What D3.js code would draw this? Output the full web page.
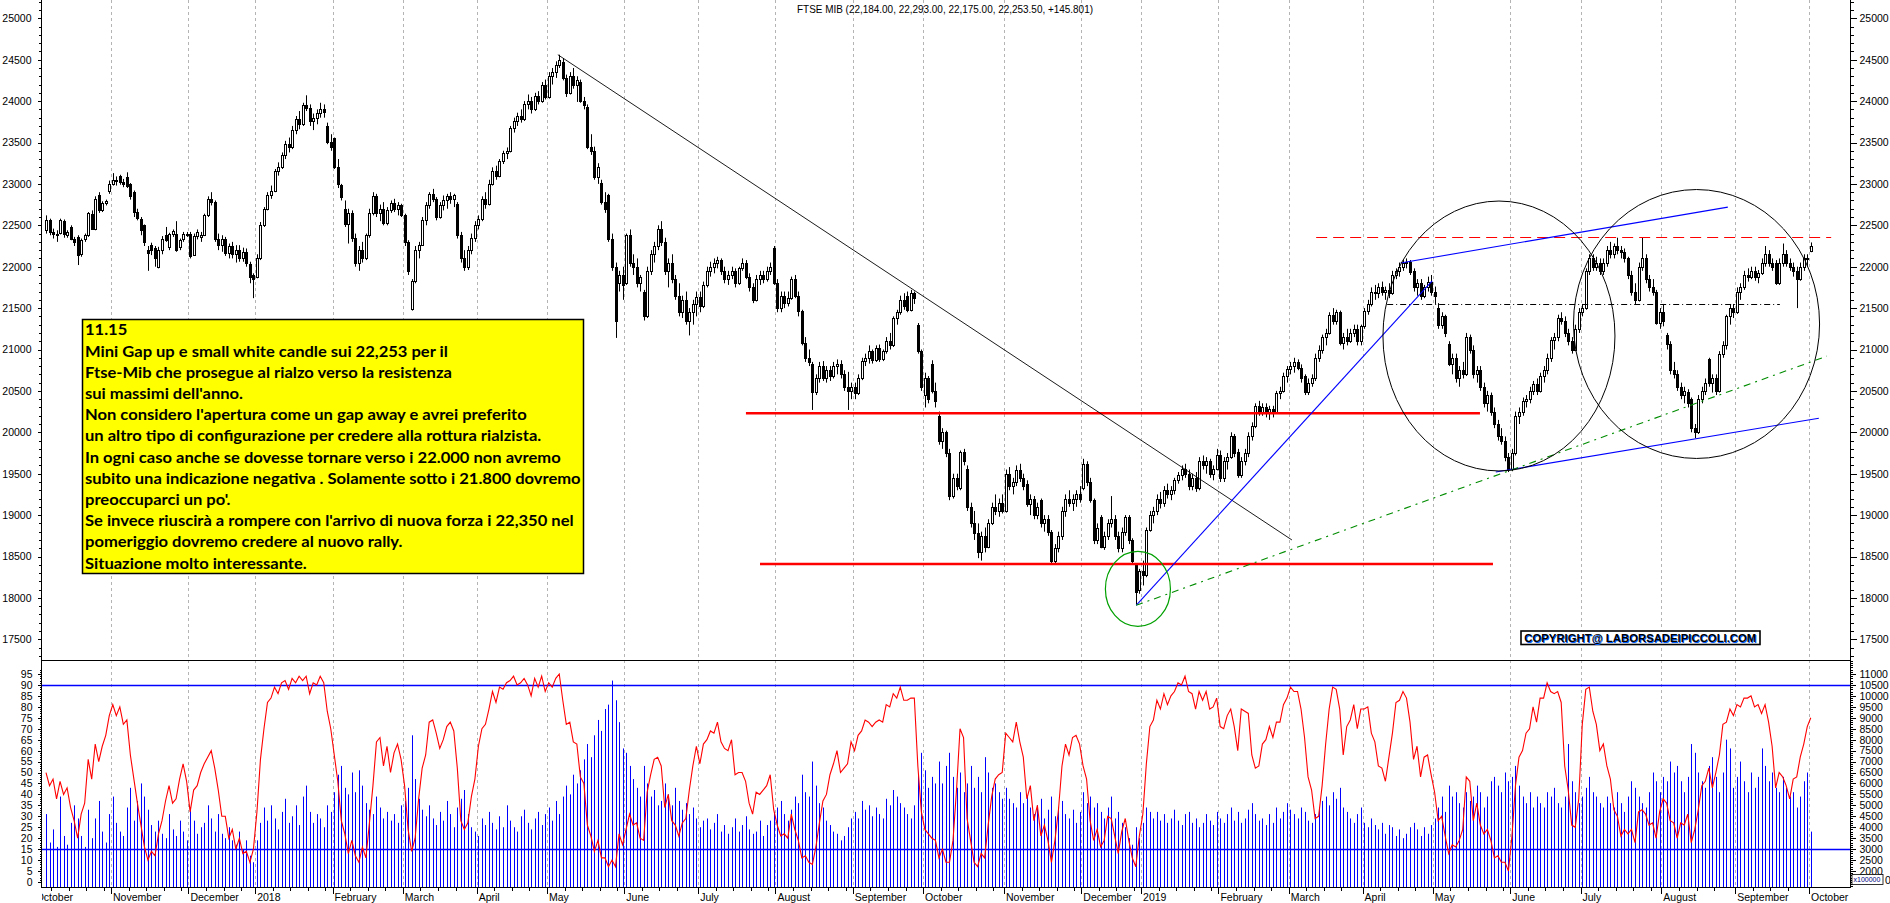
<!DOCTYPE html>
<html><head><meta charset="utf-8">
<script src="https://cdn.jsdelivr.net/npm/d3@7"></script>
<style>html,body{margin:0;padding:0;background:#fff;overflow:hidden}svg{display:block}</style>
</head><body>
<svg id="c" width="1890" height="903"></svg>
<script>
// ---------------- DATA ----------------
const titleText = "FTSE MIB (22,184.00, 22,293.00, 22,175.00, 22,253.50, +145.801)";
const monthLabels = ["October","November","December","2018","February","March","April","May","June","July","August","September","October","November","December","2019","February","March","April","May","June","July","August","September","October"];
const monthDays = [19,22,19,22,20,21,20,22,21,22,22,20,23,22,17,22,20,21,20,22,20,23,21,21,1];
const leadingDays = 3; // trading days of the first month before the first bar
const priceTicks = d3.range(17500, 25001, 500);
const oscTicks = d3.range(0, 96, 5);
const volTicks = d3.range(2000, 11001, 500);

// daily candles [open, high, low, close]
const candles = [
// Oct 2017
[22440,22620,22400,22570],[22560,22580,22380,22420],[22420,22460,22340,22400],[22400,22440,22300,22380],[22410,22580,22390,22560],[22550,22570,22350,22400],[22380,22440,22350,22420],[22480,22500,22320,22340],[22340,22360,22250,22300],[22360,22380,22020,22140],[22150,22340,22120,22320],[22330,22400,22300,22380],[22380,22660,22360,22650],[22640,22680,22450,22460],[22460,22850,22440,22820],[22860,22900,22650,22680],[22690,22790,22660,22770],[22770,22810,22740,22790],[22920,23040,22880,23000],
// Nov 2017
[23000,23130,22980,23050],[23050,23090,22980,23030],[23100,23110,22990,23020],[23020,23060,22960,23000],[23080,23140,22950,22970],[23000,23010,22810,22850],[22900,22920,22600,22660],[22660,22700,22560,22590],[22580,22600,22380,22440],[22500,22510,22250,22300],[22200,22250,21950,22160],[22260,22290,22140,22200],[22220,22250,22000,22100],[22000,22240,21980,22200],[22200,22370,22150,22340],[22380,22480,22300,22320],[22240,22410,22200,22400],[22400,22450,22360,22430],[22400,22550,22180,22200],[22240,22340,22200,22320],[22340,22420,22300,22400],[22400,22420,22360,22380],
// Dec 2017
[22400,22420,22100,22130],[22140,22400,22130,22370],[22370,22450,22330,22420],[22360,22420,22300,22380],[22380,22640,22370,22620],[22620,22850,22600,22820],[22820,22900,22740,22780],[22780,22800,22300,22330],[22330,22400,22200,22260],[22260,22380,22180,22330],[22330,22360,22130,22160],[22160,22280,22100,22250],[22250,22300,22100,22150],[22150,22260,22050,22200],[22200,22260,22060,22100],[22100,22230,22060,22180],[22180,22220,22000,22050],[22030,22060,21800,21870],[21900,21920,21620,21850],
// Jan 2018
[21880,22150,21860,22100],[22100,22540,22080,22500],[22500,22720,22480,22700],[22700,22900,22680,22870],[22870,22980,22820,22920],[22920,23180,22900,23150],[23150,23260,23100,23200],[23200,23380,23180,23350],[23350,23520,23300,23480],[23480,23560,23380,23440],[23440,23700,23420,23650],[23650,23820,23600,23780],[23780,23880,23660,23720],[23720,23980,23700,23950],[23950,24070,23880,23920],[23920,23960,23700,23760],[23760,23850,23650,23800],[23800,23900,23720,23860],[23860,23980,23800,23900],[23900,23960,23800,23870],[23700,23740,23480,23510],[23510,23600,23400,23450],
// Feb 2018
[23550,23560,23180,23210],[23210,23300,22950,23000],[22990,23000,22800,22840],[22700,22800,22480,22520],[22520,22700,22280,22650],[22650,22680,22300,22350],[22350,22400,22000,22050],[22050,22250,21950,22200],[22200,22300,22050,22100],[22100,22400,22080,22380],[22380,22700,22350,22650],[22650,22900,22620,22850],[22850,22880,22600,22650],[22650,22750,22550,22700],[22700,22780,22500,22530],[22530,22720,22500,22690],[22690,22800,22650,22770],[22770,22820,22660,22700],[22700,22780,22620,22740],[22740,22760,22600,22620],
// Mar 2018
[22620,22640,22250,22300],[22300,22320,21900,21950],[21490,21850,21470,21830],[21830,22250,21800,22200],[22200,22300,22100,22260],[22260,22600,22250,22560],[22560,22780,22500,22740],[22740,22900,22700,22880],[22880,22940,22780,22820],[22820,22840,22560,22600],[22600,22780,22580,22740],[22740,22860,22680,22800],[22800,22880,22700,22850],[22850,22900,22760,22820],[22820,22880,22720,22860],[22760,22780,22340,22380],[22380,22420,22050,22100],[22100,22200,21950,22000],[22000,22250,21960,22200],[22200,22400,22150,22350],[22350,22550,22300,22500],
// Apr 2018
[22500,22620,22450,22580],[22580,22850,22550,22820],[22820,22900,22700,22760],[22760,23050,22740,23000],[23000,23200,22980,23150],[23150,23220,23050,23100],[23100,23300,23080,23280],[23280,23400,23240,23370],[23370,23440,23300,23400],[23400,23700,23380,23680],[23680,23800,23620,23760],[23760,23860,23700,23820],[23820,23900,23740,23780],[23780,24000,23760,23960],[23960,24080,23900,24000],[24000,24050,23850,23900],[23900,24100,23880,24060],[24060,24120,23960,24000],[24000,24230,23980,24200],[24200,24260,24020,24050],
// May 2018
[24050,24350,24030,24300],[24300,24400,24200,24350],[24350,24480,24280,24440],[24440,24560,24400,24500],[24470,24520,24250,24280],[24280,24320,24050,24100],[24100,24350,24080,24300],[24300,24400,24150,24200],[24200,24300,23990,24250],[24230,24260,23980,24000],[24000,24050,23900,23950],[23930,23960,23420,23450],[23450,23600,23350,23400],[23400,23450,23050,23080],[23080,23250,23000,23200],[23010,23050,22750,22780],[22780,22900,22650,22700],[22860,22880,22300,22340],[22340,22400,21950,22000],[22000,22050,21140,21350],[21800,21950,21700,21900],[21900,22000,21600,21780],
// Jun 2018
[21800,22400,21780,22380],[22380,22450,22000,22050],[22050,22150,21900,22000],[22000,22100,21750,21800],[21800,21900,21700,21880],[21700,21720,21350,21400],[21400,22000,21380,21950],[21950,22200,21900,22150],[22150,22300,22050,22250],[22250,22500,22200,22450],[22450,22550,22250,22300],[22300,22350,21900,21950],[21950,22100,21750,22050],[22050,22150,21800,21850],[21850,21900,21600,21650],[21650,21800,21400,21450],[21450,21650,21380,21600],[21600,21700,21300,21350],[21350,21500,21170,21450],[21450,21600,21300,21550],[21550,21700,21400,21630],
// Jul 2018
[21630,21700,21450,21520],[21520,21820,21500,21780],[21780,22000,21750,21950],[21950,22060,21880,22000],[22000,22100,21920,22050],[22050,22120,21980,22080],[22080,22100,21900,21950],[21950,22000,21800,21850],[21850,21950,21780,21900],[21900,22000,21850,21950],[21950,21980,21750,21800],[21800,22000,21780,21980],[21980,22100,21950,22050],[22050,22080,21850,21880],[21880,21920,21700,21750],[21750,21800,21560,21600],[21600,21900,21580,21850],[21850,21950,21780,21900],[21900,21950,21800,21850],[21850,22000,21820,21950],[21950,22050,21900,22000],[22230,22250,21780,21800],
// Aug 2018
[21800,21850,21450,21500],[21500,21700,21450,21650],[21650,21700,21500,21560],[21560,21700,21520,21620],[21620,21880,21600,21850],[21850,21900,21620,21650],[21650,21700,21400,21460],[21460,21480,21050,21080],[21080,21150,20850,20900],[20900,21000,20800,20850],[20830,20850,20270,20490],[20490,20700,20450,20650],[20650,20850,20600,20800],[20800,20860,20620,20660],[20660,20800,20600,20750],[20750,20800,20620,20680],[20680,20850,20650,20800],[20800,20880,20700,20830],[20830,20870,20650,20700],[20700,20750,20500,20550],[20550,20730,20270,20500],[20500,20600,20400,20550],
// Sep 2018
[20550,20600,20400,20480],[20480,20700,20450,20650],[20650,20900,20630,20860],[20860,20950,20800,20900],[20900,21050,20830,20980],[20980,21000,20830,20870],[20870,21050,20850,21020],[21020,21060,20850,20880],[20880,21000,20860,20980],[20980,21150,20950,21100],[21100,21200,21000,21050],[21050,21400,21030,21380],[21380,21480,21300,21450],[21450,21650,21420,21600],[21600,21680,21480,21520],[21650,21700,21450,21480],[21480,21720,21460,21680],[21680,21700,21550,21620],[21300,21320,20950,20980],[20980,21000,20500,20550],
// Oct 2018
[20450,20720,20300,20650],[20650,20680,20350,20400],[20830,20870,20470,20500],[20500,20600,20300,20380],[20200,20250,19850,19900],[19900,20050,19800,20000],[20000,20020,19700,19750],[19750,19800,19180,19230],[19230,19500,19200,19450],[19450,19500,19300,19350],[19330,19780,19300,19760],[19760,19800,19600,19650],[19560,19600,19050,19100],[19100,19150,18850,18900],[18900,19050,18700,18780],[18780,18900,18480,18550],[18550,18800,18450,18750],[18750,18850,18550,18620],[18620,18950,18600,18900],[18900,19150,18880,19100],[19100,19250,19000,19050],[19050,19200,18980,19150],[19150,19250,19020,19050],
// Nov 2018
[19050,19550,19030,19500],[19500,19580,19300,19350],[19350,19450,19250,19400],[19400,19600,19350,19550],[19550,19620,19400,19450],[19450,19500,19300,19350],[19380,19420,19100,19130],[19130,19250,19000,19200],[19200,19230,18950,19000],[19000,19150,18950,19100],[19180,19200,18850,18900],[18900,19000,18800,18950],[18950,19000,18750,18800],[18800,18820,18400,18450],[18450,18650,18420,18600],[18600,18800,18550,18750],[18750,19100,18700,19050],[19050,19250,18980,19200],[19200,19300,19100,19150],[19150,19250,19050,19200],[19200,19300,19100,19250],[19250,19350,19150,19190],
// Dec 2018
[19330,19680,19300,19620],[19620,19650,19350,19400],[19400,19450,19150,19180],[19180,19200,18650,18700],[18700,18900,18650,18850],[18980,19000,18600,18620],[18620,18800,18580,18750],[18750,18950,18700,18900],[18900,19230,18850,18950],[18950,19000,18700,18750],[18750,18800,18550,18600],[18600,18850,18550,18800],[18800,19000,18750,18980],[18980,19000,18650,18700],[18700,18720,18400,18450],[18400,18420,17920,18070],[18100,18350,18050,18320],
// Jan 2019
[18320,18450,18150,18280],[18280,18850,18250,18820],[18820,19050,18800,19000],[19000,19100,18900,19050],[19050,19250,19000,19200],[19200,19280,19080,19150],[19150,19350,19100,19300],[19300,19380,19200,19250],[19250,19350,19180,19300],[19300,19450,19250,19420],[19420,19520,19380,19480],[19480,19600,19420,19560],[19560,19620,19450,19500],[19500,19550,19300,19350],[19350,19500,19300,19450],[19450,19520,19280,19330],[19330,19700,19300,19650],[19650,19720,19550,19600],[19600,19700,19500,19650],[19650,19680,19450,19500],[19500,19600,19420,19560],[19560,19800,19540,19730],
// Feb 2019
[19730,19780,19400,19450],[19450,19700,19400,19650],[19650,19750,19550,19700],[19700,20000,19680,19950],[19950,19980,19700,19750],[19760,19800,19450,19480],[19480,19700,19450,19650],[19650,19800,19600,19750],[19750,20000,19700,19950],[19950,20120,19900,20080],[20080,20350,20050,20320],[20320,20380,20200,20250],[20250,20350,20200,20300],[20300,20350,20180,20230],[20230,20320,20150,20280],[20280,20320,20180,20250],[20250,20500,20230,20470],[20470,20550,20400,20500],[20500,20720,20480,20680],[20680,20800,20600,20760],
// Mar 2019
[20760,20850,20700,20800],[20800,20900,20720,20850],[20850,20880,20750,20780],[20780,20820,20600,20650],[20680,20700,20450,20490],[20490,20650,20450,20600],[20600,20700,20550,20650],[20650,20950,20620,20900],[20900,21050,20850,21000],[21000,21180,20950,21150],[21150,21250,21050,21200],[21200,21450,21180,21420],[21420,21500,21300,21350],[21350,21480,21300,21450],[21450,21470,21050,21080],[21080,21200,21000,21150],[21150,21250,21050,21100],[21100,21250,21080,21200],[21200,21300,21150,21250],[21250,21300,21050,21100],[21100,21300,21050,21280],
// Apr 2019
[21280,21500,21250,21460],[21460,21600,21420,21550],[21550,21750,21520,21700],[21700,21780,21600,21680],[21680,21800,21620,21750],[21750,21820,21650,21700],[21700,21760,21600,21720],[21720,21800,21620,21680],[21680,21950,21660,21900],[21900,21980,21850,21950],[21950,22050,21880,22000],[22000,22080,21950,22040],[22040,22100,21980,22060],[22060,22080,21900,21930],[21950,21980,21700,21750],[21750,21850,21650,21800],[21800,21850,21600,21650],[21650,21780,21620,21750],[21750,21880,21700,21820],[21820,21900,21650,21700],
// May 2019
[21700,21760,21550,21650],[21500,21560,21250,21300],[21300,21450,21250,21400],[21400,21420,21150,21200],[21070,21100,20800,20830],[20830,20950,20700,20900],[20900,20950,20600,20650],[20650,20800,20550,20750],[20750,20850,20650,20700],[20700,21200,20680,21150],[21150,21180,20950,21000],[21000,21050,20650,20700],[20700,20800,20600,20750],[20750,20800,20500,20550],[20550,20600,20300,20350],[20350,20500,20250,20450],[20450,20480,20200,20250],[20250,20300,20050,20100],[20100,20150,19900,19950],[19950,20050,19850,19900],[19900,19950,19650,19700],[19700,19750,19520,19560],
// Jun 2019
[19560,19800,19530,19750],[19750,20250,19720,20200],[20200,20300,20100,20250],[20250,20420,20200,20380],[20380,20450,20300,20400],[20400,20550,20350,20500],[20500,20620,20450,20580],[20580,20650,20450,20500],[20500,20720,20480,20680],[20680,20800,20600,20750],[20750,20950,20700,20900],[20900,21150,20850,21120],[21120,21200,21000,21150],[21150,21420,21100,21380],[21380,21450,21300,21350],[21350,21400,21150,21200],[21200,21250,21050,21100],[21100,21150,20950,21000],[21000,21300,20980,21250],[21250,21500,21200,21450],
// Jul 2019
[21450,21550,21400,21500],[21500,21980,21480,21950],[21950,22150,21900,22100],[22100,22150,21950,22000],[22000,22120,21950,22050],[22050,22100,21900,21950],[21950,22100,21900,22050],[22050,22250,22000,22200],[22200,22300,22100,22150],[22150,22280,22100,22250],[22250,22350,22150,22200],[22200,22250,22100,22180],[22180,22220,22050,22100],[22100,22120,21850,21900],[21900,21950,21650,21700],[21700,21800,21550,21600],[21600,22050,21580,22000],[22000,22350,21950,22100],[22100,22150,21800,21850],[21850,21900,21700,21750],[21750,21850,21650,21700],[21700,21720,21300,21320],[21320,21500,21250,21450],
// Aug 2019
[21450,21550,21280,21350],[21170,21200,21000,21070],[21070,21100,20700,20750],[20750,20850,20650,20700],[20700,20750,20500,20550],[20550,20600,20400,20450],[20450,20550,20350,20500],[20490,20520,20300,20350],[20400,20420,20000,20050],[20050,20100,19930,20000],[20000,20450,19980,20400],[20400,20550,20350,20500],[20500,20650,20450,20600],[20880,20900,20550,20590],[20590,20700,20480,20650],[20650,20700,20450,20500],[20500,20980,20480,20950],[20950,21100,20900,21050],[21050,21420,21000,21400],[21400,21550,21300,21500],[21500,21550,21380,21450],
// Sep 2019
[21450,21750,21430,21700],[21700,21800,21600,21750],[21750,21950,21720,21900],[21900,21980,21820,21880],[21880,22000,21850,21950],[21950,22000,21830,21870],[21870,21960,21800,21920],[21920,22100,21900,22050],[22050,22250,22000,22150],[22150,22200,22000,22050],[22050,22100,21950,22000],[22050,22080,21780,21800],[21800,22100,21780,22050],[22050,22280,22000,22150],[22150,22200,22000,22050],[22050,22100,21950,22000],[22000,22050,21880,21950],[21950,22000,21500,21850],[21850,22050,21830,22000],[22000,22150,21950,22100],[22100,22150,22000,22110],
// Oct 2019
[22184,22293,22175,22253]
];

// volume (x100000 axis units)
const volumes = [
4600,3300,3900,3100,5400,3600,3200,4200,5000,4400,3600,3100,4800,3500,4400,5200,3800,3300,4600,
5400,4200,3800,3600,4900,5800,4300,5200,6000,5400,4800,4100,3800,4300,3700,3500,4600,3900,3600,4300,3800,3400,
4900,4300,3700,4000,4200,5000,4400,3800,4600,3700,3500,4000,3400,3200,3800,3000,3400,2700,2400,
3400,4200,4900,4300,5000,4400,3900,4700,5300,4200,4500,5000,4100,5400,5900,4700,4200,4600,4400,4000,5000,4700,
5600,6400,6800,5800,5500,6500,5600,6600,5900,5100,4800,4600,5400,4900,4400,4700,4300,4600,4200,5000,
5200,5800,8200,6200,5300,4800,4500,5000,4400,4100,4700,4300,5200,4600,4000,4900,5300,5700,4600,4000,3800,
3600,4400,4100,4700,4200,3900,4500,4000,5000,4300,4000,3800,4500,4800,4200,3900,4400,4700,4100,4600,
4900,4300,5200,4600,5400,5900,5500,6400,6000,6600,7100,7800,7200,8200,8900,8400,9400,9600,10700,9800,8800,7600,
7400,6800,6200,5800,5400,6800,6000,5400,5700,5000,5200,6000,5500,5000,5800,5200,4800,5100,4600,4900,4400,
4000,4300,4400,3900,4200,4600,3800,4100,3700,4000,4400,3800,4100,4500,3900,3700,3800,4300,3600,4100,4300,4700,
4900,5200,4600,4300,4800,5400,5100,6400,5600,5400,7000,5900,5100,4900,4300,4100,3800,3700,3400,3600,4000,4400,
4700,4400,5200,4800,5000,4500,4900,4600,4400,5300,5000,5700,5400,5100,4900,4600,4400,5000,6400,7400,
6600,5800,6300,6000,7000,6000,6800,7400,6300,5800,6500,5600,6000,6800,5800,6300,5600,7200,6500,5800,6000,5600,5300,
5800,5300,5100,4900,5600,5100,5400,4900,4600,5000,5300,4400,4800,5400,4500,4900,5200,4600,4400,4800,4200,4700,
5600,5100,5400,4900,5100,4700,4400,4900,5400,4400,4700,4200,4000,3500,3200,4000,3500,
4200,4900,4700,4400,4700,4300,4600,4200,4400,4800,4300,4100,4600,4700,4200,4400,4000,4200,4600,4300,4100,4700,
4400,4200,4600,4900,4300,4700,4200,4400,4800,5100,4600,4300,4400,4100,4600,4200,4900,4400,4700,5100,
4800,4600,4400,4900,4700,4300,4200,4600,4900,5200,5400,5000,5600,5300,5800,4900,4700,4400,4200,4600,4900,
4200,4000,4400,4100,3900,4200,3700,4100,4000,3600,3900,3500,3700,4000,4200,3900,3600,4000,3700,4100,
4400,4900,5400,4700,5900,5400,5600,5100,4900,5600,5200,5400,5900,5600,4900,5400,6100,6300,5900,5600,6500,6100,
6300,6800,5900,5400,5100,5600,4900,5400,5100,4900,5600,5400,5800,5100,4900,5400,7800,6100,5600,5100,
5400,5800,6300,5600,5400,5100,4900,5400,5100,4900,5600,5100,4700,5400,6100,5800,5400,5100,4900,5600,6500,6100,5600,
6300,6100,7000,6500,6800,6100,5600,6300,7800,7400,6500,6100,5800,6800,7200,6300,5600,6500,8000,7600,5800,
6300,7000,6100,5600,6500,5800,6300,7600,6800,6100,6500,5800,5600,6300,5800,5400,5600,4900,5400,6100,6500,
3800
];

// oscillator (0-100, red line)
const oscillator = [
50,44,47,38,46,40,43,34,28,20,31,36,56,47,63,55,62,67,76,
81,76,80,72,74,58,47,36,26,16,10,14,12,22,28,37,44,36,38,47,54,46,
32,42,44,50,54,57,60,52,42,30,30,20,24,15,20,13,14,9,15,
32,56,70,82,84,89,86,91,92,88,93,91,94,92,94,86,91,90,94,91,78,70,
58,46,28,22,13,19,12,9,16,11,27,44,64,66,53,62,50,59,63,56,
44,24,14,20,38,52,58,73,74,68,61,65,71,73,69,52,28,24,27,39,47,
62,70,72,79,87,82,89,88,91,92,94,90,91,93,90,85,93,89,94,87,
91,89,93,95,83,72,73,64,63,48,45,26,21,14,19,11,11,7,10,7,22,17,
24,31,26,27,20,19,41,49,56,57,53,34,40,28,26,21,27,29,42,53,62,
54,63,65,69,68,73,64,61,60,65,49,50,50,46,36,31,41,40,42,44,49,33,
26,21,22,20,31,24,19,11,12,9,8,16,27,37,40,49,54,60,50,52,54,64,
60,67,69,74,73,71,73,74,73,81,80,86,84,89,83,83,84,84,53,32,
24,22,20,19,11,15,9,9,19,42,70,66,29,19,9,7,13,11,26,39,47,49,50,
68,66,64,73,64,57,38,44,28,35,21,26,19,9,19,33,53,63,58,66,67,63,
53,47,28,19,24,16,19,30,29,21,13,23,29,19,11,7,21,
31,54,71,74,83,79,86,81,85,87,91,90,94,87,86,79,87,83,87,79,80,84,
71,70,76,79,71,60,79,78,77,58,52,53,63,65,71,66,73,73,81,84,
89,87,87,79,66,48,42,29,30,44,63,79,89,88,79,58,71,74,81,70,79,
79,80,68,64,53,52,46,57,68,82,83,87,84,73,56,62,48,57,58,49,
41,28,30,21,13,17,16,19,24,48,46,28,36,26,22,24,19,11,12,9,9,5,
21,44,57,60,68,70,80,73,84,84,91,87,86,87,82,53,42,26,25,38,
72,88,89,78,72,60,63,53,47,33,30,21,24,22,24,18,32,33,31,26,27,20,32,
38,36,28,27,20,27,26,31,18,24,33,44,46,52,43,50,58,72,73,79,76,
81,80,84,84,85,80,81,77,81,73,62,43,50,48,44,38,47,48,57,63,71,
75
];
const oscLevels = [90, 15];

// drawn annotations (in bar index / price units)
const supportLines = [{i0:199.1,i1:407.9,p:20230},{i0:203.1,i1:411.6,p:18410}];
const resistanceDashed = {i0:361.3,i1:507.8,p:22360};
const necklineDashDot = {i0:381.5,i1:493.2,p:21545};
const downTrend = {i0:145.6,p0:24560,i1:354.4,p1:18700};
const blueLines = [{i0:310.1,p0:17910,i1:394.3,p1:21830},{i0:385.3,p0:22045,i1:478.4,p1:22720},{i0:412.4,p0:19520,i1:504.3,p1:20170}];
const greenTrend = {i0:310.1,p0:17910,i1:506.6,p1:20920};
const blackEllipses = [{i:413.3,p:21163,ri:33.0,rp:1630},{i:469.5,p:21308,ri:35.0,rp:1624}];
const greenEllipse = {i:310.6,p:18108,ri:9.25,rp:453};

const noteLines = ["11.15",
"Mini Gap up e small white candle sui 22,253 per il",
"Ftse-Mib che prosegue al rialzo verso la resistenza",
"sui massimi dell'anno.",
"Non considero l'apertura come un gap away e avrei preferito",
"un altro tipo di configurazione per credere alla rottura rialzista.",
"In ogni caso anche se dovesse tornare verso i 22.000 non avremo",
"subito una indicazione negativa . Solamente sotto i 21.800 dovremo",
"preoccuparci un po'.",
"Se invece riuscirà a rompere con l'arrivo di nuova forza i 22,350 nel",
"pomeriggio dovremo credere al nuovo rally.",
"Situazione molto interessante."];
const copyrightText = "COPYRIGHT@ LABORSADEIPICCOLI.COM";

// ---------------- LAYOUT ----------------
const L = 42, R = 1850, mainBot = 660, lowTop = 661, lowBot = 887;
const svg = d3.select("#c");
const FONT = "'Liberation Sans', Arial, sans-serif";

const x = d3.scaleLinear().domain([0, 502]).range([46, 46 + 502 * 3.5155]);
const yP = d3.scaleLinear().domain([17500, 25000]).range([639.3, 18.3]);
const yO = d3.scaleLinear().domain([0, 95]).range([882, 674]);
const yV = d3.scaleLinear().domain([2000, 11000]).range([871, 674]);

const defs = svg.append("defs");
defs.append("clipPath").attr("id","clipMain").append("rect").attr("x",L).attr("y",0).attr("width",R-L).attr("height",mainBot);
defs.append("clipPath").attr("id","clipLow").append("rect").attr("x",L).attr("y",lowTop).attr("width",R-L).attr("height",lowBot-lowTop);
defs.append("clipPath").attr("id","clipLbl").append("rect").attr("x",L).attr("y",880).attr("width",1890-L).attr("height",30);

// month start bar indices (first month starts before the first bar)
const mStarts = []; { let s = 0; monthDays.forEach((d,k)=>{ mStarts.push(k===0 ? -leadingDays : s); s += d; }); }

// gridlines
const grid = svg.append("g");
mStarts.forEach(s => {
  const gx = Math.round(x(s - 0.5)) + 0.5;
  if (gx < L || gx > R) return;
  grid.append("line").attr("x1",gx).attr("x2",gx).attr("y1",0).attr("y2",lowBot)
    .attr("stroke","#b4b4b4").attr("stroke-width",1).attr("stroke-dasharray","3,3");
});

// ---------- lower panel ----------
const low = svg.append("g").attr("clip-path","url(#clipLow)");
low.selectAll("line.v").data(volumes).join("line").attr("class","v")
  .attr("x1",(d,i)=>Math.round(x(i))+0.5).attr("x2",(d,i)=>Math.round(x(i))+0.5)
  .attr("y1",lowBot).attr("y2",d=>yV(d)).attr("stroke","#0000ff").attr("stroke-width",1);
oscLevels.forEach(v => low.append("line").attr("x1",L).attr("x2",R).attr("y1",Math.round(yO(v))+0.5).attr("y2",Math.round(yO(v))+0.5)
  .attr("stroke","#0000ff").attr("stroke-width",1.3));
low.append("path").datum(oscillator).attr("fill","none").attr("stroke","#ff0000").attr("stroke-width",1.1)
  .attr("d", d3.line().x((d,i)=>x(i)).y(d=>yO(d)));

// ---------- main panel ----------
const main = svg.append("g").attr("clip-path","url(#clipMain)");
const cg = main.selectAll("g.c").data(candles).join("g").attr("class","c");
cg.append("line")
  .attr("x1",(d,i)=>Math.round(x(i))+0.5).attr("x2",(d,i)=>Math.round(x(i))+0.5)
  .attr("y1",d=>yP(Math.max(d[1],d[0],d[3]))).attr("y2",d=>yP(Math.min(d[2],d[0],d[3])))
  .attr("stroke","#000").attr("stroke-width",1);
cg.append("rect")
  .attr("x",(d,i)=>Math.round(x(i))-0.5)
  .attr("y",d=>Math.round(yP(Math.max(d[0],d[3])))+0.5)
  .attr("width",2)
  .attr("height",d=>Math.max(1, Math.round(yP(Math.min(d[0],d[3]))) - Math.round(yP(Math.max(d[0],d[3])))))
  .attr("fill",d=>d[3]>=d[0] ? "#fff" : "#000").attr("stroke","#000").attr("stroke-width",1);

// annotations
const ann = svg.append("g").attr("clip-path","url(#clipMain)");
supportLines.forEach(l => ann.append("line").attr("x1",x(l.i0)).attr("x2",x(l.i1)).attr("y1",yP(l.p)).attr("y2",yP(l.p))
  .attr("stroke","#ff0000").attr("stroke-width",2.6));
ann.append("line").attr("x1",x(resistanceDashed.i0)).attr("x2",x(resistanceDashed.i1))
  .attr("y1",Math.round(yP(resistanceDashed.p))+0.5).attr("y2",Math.round(yP(resistanceDashed.p))+0.5)
  .attr("stroke","#ff0000").attr("stroke-width",1.2).attr("stroke-dasharray","11,6");
ann.append("line").attr("x1",x(necklineDashDot.i0)).attr("x2",x(necklineDashDot.i1))
  .attr("y1",Math.round(yP(necklineDashDot.p))+0.5).attr("y2",Math.round(yP(necklineDashDot.p))+0.5)
  .attr("stroke","#000").attr("stroke-width",1).attr("stroke-dasharray","6,3,1,3");
ann.append("line").attr("x1",x(downTrend.i0)).attr("y1",yP(downTrend.p0)).attr("x2",x(downTrend.i1)).attr("y2",yP(downTrend.p1))
  .attr("stroke","#000").attr("stroke-width",0.9);
blueLines.forEach(l => ann.append("line").attr("x1",x(l.i0)).attr("y1",yP(l.p0)).attr("x2",x(l.i1)).attr("y2",yP(l.p1))
  .attr("stroke","#0000ff").attr("stroke-width",1.1));
ann.append("line").attr("x1",x(greenTrend.i0)).attr("y1",yP(greenTrend.p0)).attr("x2",x(greenTrend.i1)).attr("y2",yP(greenTrend.p1))
  .attr("stroke","#008c00").attr("stroke-width",1.1).attr("stroke-dasharray","7,5,2,5");
const pxPerBar = x(1) - x(0);
blackEllipses.forEach(e => ann.append("ellipse").attr("cx",x(e.i)).attr("cy",yP(e.p))
  .attr("rx",e.ri*pxPerBar).attr("ry",Math.abs(yP(e.p+e.rp)-yP(e.p)))
  .attr("fill","none").attr("stroke","#000").attr("stroke-width",1));
ann.append("ellipse").attr("cx",x(greenEllipse.i)).attr("cy",yP(greenEllipse.p))
  .attr("rx",greenEllipse.ri*pxPerBar).attr("ry",Math.abs(yP(greenEllipse.p+greenEllipse.rp)-yP(greenEllipse.p)))
  .attr("fill","none").attr("stroke","#00a000").attr("stroke-width",1.2);

// panel frame lines
svg.append("line").attr("x1",L).attr("x2",R).attr("y1",lowTop-0.5).attr("y2",lowTop-0.5).attr("stroke","#000").attr("stroke-width",1);
svg.append("line").attr("x1",L).attr("x2",R).attr("y1",lowBot+0.5).attr("y2",lowBot+0.5).attr("stroke","#000").attr("stroke-width",1);
svg.append("line").attr("x1",L-0.5).attr("x2",L-0.5).attr("y1",0).attr("y2",lowBot+1).attr("stroke","#000").attr("stroke-width",1);
svg.append("line").attr("x1",R+0.5).attr("x2",R+0.5).attr("y1",0).attr("y2",lowBot+1).attr("stroke","#000").attr("stroke-width",1);

// ---------- axes ----------
function styleAxis(g){
  g.select(".domain").remove();
  g.selectAll("text").attr("font-family",FONT).attr("font-size",10.5).attr("fill","#000");
  g.selectAll("line").attr("stroke","#000");
}
svg.append("g").attr("transform",`translate(${L-0.5},0)`)
  .call(d3.axisLeft(yP).tickValues(d3.range(17300,25201,100)).tickSize(3).tickFormat(""))
  .call(styleAxis);
svg.append("g").attr("transform",`translate(${L-0.5},0)`)
  .call(d3.axisLeft(yP).tickValues(priceTicks).tickSize(4).tickPadding(6).tickFormat(d3.format("d")))
  .call(styleAxis);
svg.append("g").attr("transform",`translate(${R+0.5},0)`)
  .call(d3.axisRight(yP).tickValues(d3.range(17300,25201,100)).tickSize(3).tickFormat(""))
  .call(styleAxis);
svg.append("g").attr("transform",`translate(${R+0.5},0)`)
  .call(d3.axisRight(yP).tickValues(priceTicks).tickSize(6).tickPadding(3).tickFormat(d3.format("d")))
  .call(styleAxis);
svg.append("g").attr("transform",`translate(${L-0.5},0)`)
  .call(d3.axisLeft(yO).tickValues(d3.range(0,98,1)).tickSize(2).tickFormat(""))
  .call(styleAxis);
svg.append("g").attr("transform",`translate(${L-0.5},0)`)
  .call(d3.axisLeft(yO).tickValues(oscTicks).tickSize(4).tickPadding(5).tickFormat(d3.format("d")))
  .call(styleAxis);
svg.append("g").attr("transform",`translate(${R+0.5},0)`)
  .call(d3.axisRight(yV).tickValues(d3.range(1300,11601,100)).tickSize(2).tickFormat(""))
  .call(styleAxis);
svg.append("g").attr("transform",`translate(${R+0.5},0)`)
  .call(d3.axisRight(yV).tickValues(volTicks).tickSize(5).tickPadding(4).tickFormat(d3.format("d")))
  .call(styleAxis);
const xg = svg.append("g").attr("transform",`translate(0,${lowBot})`);
xg.append("rect").attr("x",R+2).attr("y",-12.5).attr("width",31).attr("height",10).attr("fill","#fff").attr("stroke","#000").attr("stroke-width",0.8);
xg.append("text").attr("x",R+3.5).attr("y",-4.8).attr("font-family",FONT).attr("font-size",7).attr("fill","#000080").text("x100000");
xg.append("text").attr("x",R+35).attr("y",-3.5).attr("font-family",FONT).attr("font-size",10.5).attr("fill","#000").text("0");

// x axis ticks
const weekTicks = [];
mStarts.forEach((s,k)=>{ const e = k < mStarts.length-1 ? mStarts[k+1] : s + monthDays[k]; for (let t = s + 5; t < e - 1; t += 5) if (t >= 0) weekTicks.push(t - 0.5); });
svg.append("g").attr("transform",`translate(0,${lowBot+0.5})`)
  .call(d3.axisBottom(x).tickValues(weekTicks).tickSize(3).tickFormat(""))
  .call(styleAxis);
svg.append("g").attr("transform",`translate(0,${lowBot+0.5})`)
  .call(d3.axisBottom(x).tickValues(mStarts.map(s=>s-0.5).filter(v=>x(v)>=L)).tickSize(6).tickFormat(""))
  .call(styleAxis);
svg.selectAll("g.tick line").attr("shape-rendering","crispEdges");

const lbl = svg.append("g").attr("clip-path","url(#clipLbl)");
lbl.selectAll("text").data(monthLabels).join("text")
  .attr("x",(d,k)=>x(mStarts[k]-0.5)+2).attr("y",901)
  .attr("font-family",FONT).attr("font-size",10.5).attr("fill","#000").text(d=>d);

// title
svg.append("text").attr("x",945).attr("y",13).attr("text-anchor","middle")
  .attr("font-family",FONT).attr("font-size",11).attr("textLength",296).attr("lengthAdjust","spacingAndGlyphs")
  .attr("fill","#000").text(titleText);

// note box
svg.append("rect").attr("x",82.5).attr("y",319.5).attr("width",501).attr("height",254)
  .attr("fill","#ffff00").attr("stroke","#000").attr("stroke-width",1.5);
const tg = svg.append("g");
const tt = tg.selectAll("text").data(noteLines).join("text")
  .attr("x",0).attr("y",(d,k)=>335.5 + k*21.2)
  .attr("font-family","Lato, 'Open Sans', sans-serif").attr("font-weight",700).attr("font-size",15)
  .attr("fill","#000").text(d=>d);
const widest = tt.filter((d,k)=>k===7).node().getComputedTextLength();
const sx = 496 / widest;
tg.attr("transform",`translate(85,0) scale(${sx},1)`);

// copyright
svg.append("rect").attr("x",1521).attr("y",631).attr("width",239).attr("height",13.5)
  .attr("fill","#fff").attr("stroke","#000").attr("stroke-width",1.6);
svg.append("text").attr("x",1641).attr("y",642.5).attr("text-anchor","middle")
  .attr("font-family",FONT).attr("font-weight",700).attr("font-size",11).attr("fill","#0060ff")
  .attr("textLength",232).attr("lengthAdjust","spacingAndGlyphs").text(copyrightText);
svg.append("text").attr("x",1640.3).attr("y",641.8).attr("text-anchor","middle")
  .attr("font-family",FONT).attr("font-weight",700).attr("font-size",11).attr("fill","#000")
  .attr("textLength",232).attr("lengthAdjust","spacingAndGlyphs").text(copyrightText);
</script>
</body></html>
